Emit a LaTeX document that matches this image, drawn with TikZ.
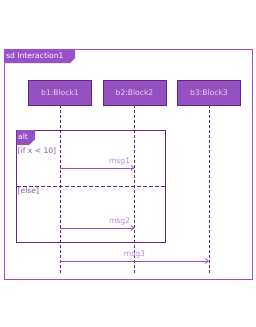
\documentclass[tikz,border=0pt]{standalone}
\usepackage{fontspec}
\setmainfont{DejaVu Sans}
\usetikzlibrary{positioning,arrows.meta}
\definecolor{framecol}{HTML}{9A50C8}
\definecolor{blockfill}{HTML}{9650C0}
\definecolor{blockdraw}{HTML}{5C2A85}
\definecolor{blocktext}{HTML}{E6D2F5}
\definecolor{lifecol}{HTML}{5C2A85}
\definecolor{labelcol}{HTML}{B487D9}
\definecolor{guardcol}{HTML}{7D5A9B}
\begin{document}
\begin{tikzpicture}[x=1pt,y=-1pt,node distance=74.5pt,every node/.style={inner sep=1pt,font=\fontsize{7.6}{8.5}\selectfont}]
\tikzstyle{block}=[draw=blockdraw,fill=blockfill,text=blocktext,line width=0.8pt,minimum width=63pt,minimum height=25pt]
\tikzstyle{life}=[draw=lifecol,line width=0.8pt,dash pattern=on 3pt off 2pt]
\tikzstyle{msg}=[draw=framecol,line width=0.8pt,-{Straight Barb[length=3pt,width=5pt]}]
\tikzstyle{lbl}=[text=labelcol]
\tikzstyle{guard}=[text=guardcol,anchor=west]
\useasboundingbox (0,0) rectangle (256,327);

% outer frame
\draw[framecol,line width=0.8pt](4,49) rectangle (252,279);
\path[fill=framecol](4,49)--(75,49)--(75,58)--(70,63)--(4,63)--cycle;
\node[anchor=west,text=white](sd) at (5,56){sd Interaction1};

% blocks
\node[block](b1) at (60,92.5){b1:Block1};
\node[block,right of=b1](b2){b2:Block2};
\node[block,right of=b2](b3){b3:Block3};

\coordinate (e1) at (b1 |- 0,275);
\coordinate (e2) at (b2 |- 0,275);
\coordinate (e3) at (b3 |- 0,275);
\path[life](b1.south)--(e1);
\path[life](b2.south)--(e2);
\path[life](b3.south)--(e3);

% alt fragment
\draw[blockdraw,line width=0.8pt](16.5,130) rectangle (165.5,242);
\path[fill=blockfill](16.5,130)--(35,130)--(35,139)--(29,145)--(16.5,145)--cycle;
\node[anchor=west,text=white](alt) at (17,137){alt};
\node[guard](g1) at (16.5,151.5){[if x < 10]};
\path[draw,blockdraw,line width=0.8pt,dash pattern=on 4pt off 2pt](16.5,186.5)--(165.5,186.5);
\node[guard](g2) at (16.5,191.5){[else]};

% messages
\coordinate (m1s) at (b1 |- 0,168);
\coordinate (m1e) at (b2 |- 0,168);
\coordinate (m2s) at (b1 |- 0,228);
\coordinate (m2e) at (b2 |- 0,228);
\coordinate (m3s) at (b1 |- 0,261);
\coordinate (m3e) at (b3 |- 0,261);
\path[msg](m1s)--(m1e) node[lbl,pos=1,above left=2pt and 3pt](l1){msg1};
\path[msg](m2s)--(m2e) node[lbl,pos=1,above left=2pt and 3pt](l2){msg2};
\path[msg](m3s)--(m3e) node[lbl,midway,above=2pt](l3){msg3};
\end{tikzpicture}
\end{document}
